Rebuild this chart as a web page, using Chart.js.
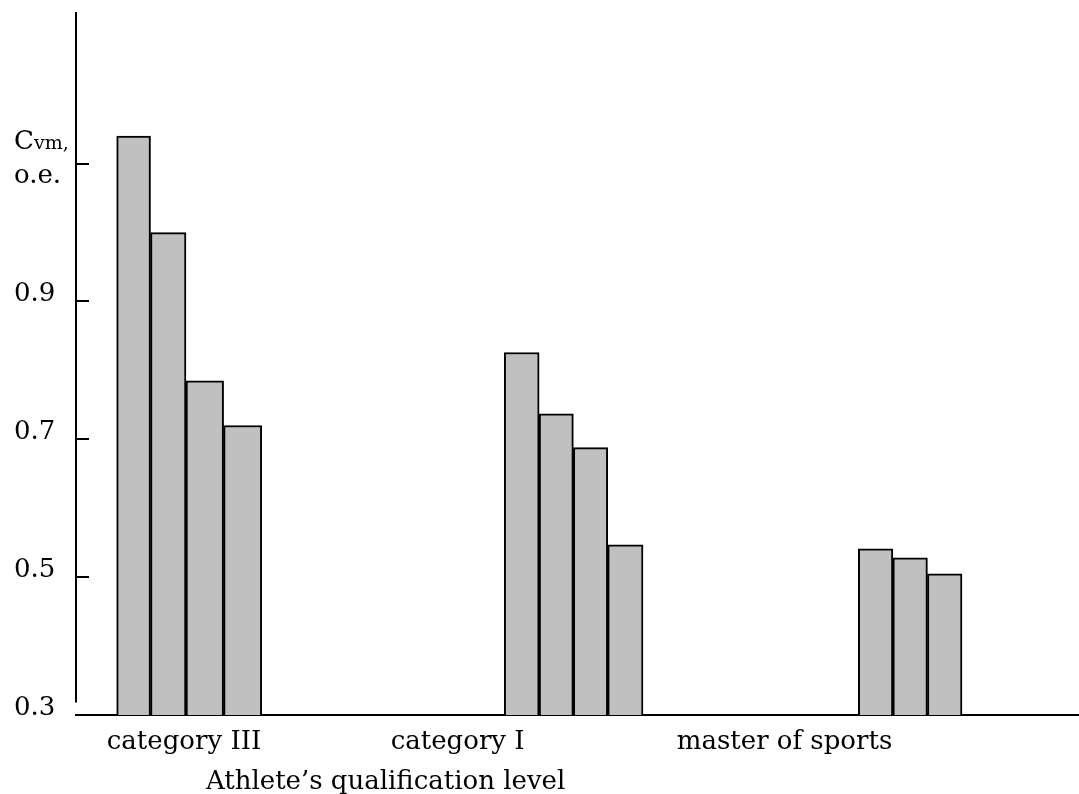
<!DOCTYPE html>
<html>
<head>
<meta charset="utf-8">
<script src="https://cdn.jsdelivr.net/npm/chart.js@4.4.0/dist/chart.umd.min.js"></script>
<style>
  html, body { margin: 0; padding: 0; background: #fff; }
  #wrap { width: 1079px; height: 794px; }
</style>
</head>
<body>
<div id="wrap"><canvas id="cvmChart"></canvas></div>
<script>
// x = slot along the axis (one slot ~ one bar), y = C_vm
const cat3X = [1.6, 2.54, 3.57, 4.63];
const cat3Cvm = [1.14, 1.0, 0.785, 0.72];
const cat1X = [12.38, 13.35, 14.28, 15.26];
const cat1Cvm = [0.826, 0.737, 0.688, 0.547];
const masterX = [22.21, 23.17, 24.13];
const masterCvm = [0.541, 0.528, 0.505];

const groupNames = ['category III', 'category I', 'master of sports'];
const groupTickX = [3.0, 10.6, 19.68];
const yTicks = [0.3, 0.5, 0.7, 0.9, 1.1];
const yTickLabels = ['0.3', '0.5', '0.7', '0.9', ''];
const xTitle = 'Athlete\u2019s qualification level';

const FONT = "'DejaVu Serif', serif";
Chart.defaults.font.family = FONT;
Chart.defaults.color = '#000';

function toPoints(xs, ys) {
  return xs.map((x, i) => ({ x: x, y: ys[i] }));
}

function barSet(label, xs, ys) {
  return {
    label: label,
    data: toPoints(xs, ys),
    backgroundColor: '#c0c0c0',
    borderColor: '#000',
    borderWidth: 2,
    borderSkipped: false,
    barThickness: 'flex',
    categoryPercentage: 1,
    barPercentage: 1
  };
}

// y axis line (stops above the x axis), inward ticks, C_vm label and x title
const axisDecor = {
  id: 'axisDecor',
  afterDraw(chart) {
    const { ctx, chartArea } = chart;
    const y = chart.scales.y;
    const x = chart.scales.x;
    ctx.save();
    ctx.strokeStyle = '#000';
    ctx.lineWidth = 2;
    ctx.beginPath();
    ctx.moveTo(chartArea.left, chartArea.top);
    ctx.lineTo(chartArea.left, y.getPixelForValue(0.318));
    ctx.stroke();
    yTicks.slice(1).forEach(v => {
      const py = Math.round(y.getPixelForValue(v));
      ctx.beginPath();
      ctx.moveTo(chartArea.left, py);
      ctx.lineTo(chartArea.left + 13, py);
      ctx.stroke();
    });

    const t = y.getPixelForValue(1.1);
    ctx.fillStyle = '#000';
    ctx.textAlign = 'left';
    ctx.textBaseline = 'alphabetic';
    ctx.font = '26px ' + FONT;
    ctx.fillText('C', y.left, t - 15);
    const cw = ctx.measureText('C').width;
    ctx.font = '19px ' + FONT;
    ctx.fillText('vm,', y.left + cw, t - 15);
    ctx.font = '26px ' + FONT;
    ctx.fillText('o.e.', y.left, t + 19);

    ctx.textAlign = 'center';
    ctx.fillText(xTitle, x.getPixelForValue(8.6), 789);
    ctx.restore();
  }
};

new Chart(document.getElementById('cvmChart'), {
  type: 'bar',
  data: {
    datasets: [
      barSet(groupNames[0], cat3X, cat3Cvm),
      barSet(groupNames[1], cat1X, cat1Cvm),
      barSet(groupNames[2], masterX, masterCvm)
    ]
  },
  options: {
    responsive: true,
    maintainAspectRatio: false,
    animation: false,
    layout: { padding: { left: 14, top: 12, right: 0, bottom: 0 } },
    plugins: {
      legend: { display: false },
      tooltip: { enabled: false }
    },
    scales: {
      x: {
        type: 'linear',
        stacked: true,
        offset: false,
        min: 0,
        max: 27.86,
        afterFit: (scale) => {
          scale.height = 79;
          scale.paddingLeft = 0;
          scale.paddingRight = 0;
        },
        afterBuildTicks: (scale) => {
          scale.ticks = groupTickX.map(v => ({ value: v }));
        },
        ticks: {
          autoSkip: false,
          maxRotation: 0,
          padding: 12,
          font: { size: 26 },
          callback: (value) => {
            const i = groupTickX.indexOf(value);
            return i >= 0 ? groupNames[i] : '';
          }
        },
        grid: { offset: false, drawOnChartArea: false, drawTicks: false },
        border: { display: true, color: '#000', width: 2 }
      },
      y: {
        min: 0.3,
        max: 1.32,
        afterFit: (scale) => {
          scale.width = 62;
          scale.paddingTop = 0;
          scale.paddingBottom = 0;
        },
        afterBuildTicks: (scale) => {
          scale.ticks = yTicks.map(v => ({ value: v }));
        },
        ticks: {
          crossAlign: 'far',
          labelOffset: -7,
          font: { size: 26 },
          callback: (value) => {
            const i = yTicks.indexOf(value);
            return i >= 0 ? yTickLabels[i] : '';
          }
        },
        grid: { drawOnChartArea: false, drawTicks: false },
        border: { display: false }
      }
    }
  },
  plugins: [axisDecor]
});
</script>
</body>
</html>
